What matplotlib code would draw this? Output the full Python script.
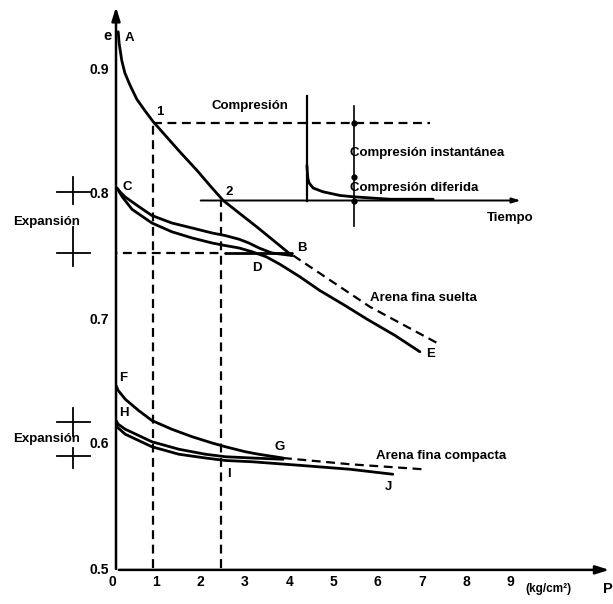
#!/usr/bin/env python3
"""Curvas de compresion e-P para arena fina suelta y compacta."""

import matplotlib
matplotlib.use('Agg')
import matplotlib.pyplot as plt
from matplotlib.transforms import ScaledTranslation

plt.rcParams['font.family'] = ['Liberation Sans Narrow', 'Liberation Sans', 'DejaVu Sans']
plt.rcParams['font.weight'] = 'bold'

# --- arena fina suelta ---
# carga virgen A-1-2-B
p_AB = [0.05, 0.07, 0.13, 0.20, 0.32, 0.47, 0.65, 0.84, 1.14, 1.44, 1.83, 2.12, 2.42, 3.21, 3.97]
e_AB = [0.929, 0.920, 0.906, 0.896, 0.886, 0.875, 0.866, 0.857, 0.845, 0.833, 0.818, 0.806, 0.794, 0.772, 0.750]

# descarga B-C
p_BC = [0.02, 0.09, 0.20, 0.52, 0.81, 1.26, 1.72, 2.17, 2.46, 2.78, 3.00, 3.23, 3.52, 3.97]
e_BC = [0.804, 0.801, 0.797, 0.789, 0.782, 0.776, 0.772, 0.768, 0.766, 0.763, 0.760, 0.756, 0.752, 0.750]

# recarga C-D-E
p_CE = [0.02, 0.14, 0.36, 0.81, 1.26, 1.72, 2.17, 2.46, 2.78, 3.07, 3.39, 3.70, 4.15, 4.60, 5.17, 5.67, 6.30, 6.86]
e_CE = [0.804, 0.797, 0.787, 0.776, 0.769, 0.764, 0.760, 0.758, 0.756, 0.753, 0.749, 0.743, 0.733, 0.722, 0.710, 0.699, 0.686, 0.673]

# prolongacion de la carga virgen
p_suelta_dash = [4.00, 5.73, 7.25]
e_suelta_dash = [0.750, 0.709, 0.680]

# --- arena fina compacta ---
p_FG = [0.0, 0.05, 0.21, 0.51, 0.81, 1.26, 1.72, 2.17, 2.47, 2.92, 3.22, 3.77]
e_FG = [0.646, 0.642, 0.635, 0.626, 0.618, 0.611, 0.605, 0.600, 0.597, 0.593, 0.591, 0.588]

p_HG = [0.0, 0.05, 0.21, 0.81, 1.42, 2.02, 2.47, 3.07, 3.77]
e_HG = [0.618, 0.615, 0.611, 0.601, 0.595, 0.591, 0.589, 0.588, 0.587]

p_HJ = [0.0, 0.05, 0.21, 0.81, 1.42, 2.02, 2.47, 3.07, 4.20, 5.28, 6.25]
e_HJ = [0.614, 0.612, 0.607, 0.597, 0.591, 0.588, 0.586, 0.585, 0.582, 0.579, 0.575]

p_compacta_dash = [3.77, 5.28, 6.93]
e_compacta_dash = [0.588, 0.583, 0.579]

# --- recuadro compresion-tiempo ---
t_inset = [4.31, 4.33, 4.36, 4.45, 4.67, 5.06, 5.35, 6.19, 7.16]
e_inset = [0.822, 0.812, 0.808, 0.804, 0.801, 0.798, 0.797, 0.795, 0.795]

x_ticks = [0, 1, 2, 3, 4, 5, 6, 7, 8, 9]
y_ticks = [0.5, 0.6, 0.7, 0.8, 0.9]

P1, E1 = 0.84, 0.856   # punto 1
P2, E2 = 2.37, 0.794   # punto 2
E_B = 0.752

fig = plt.figure(figsize=(6.13, 6.04), dpi=100)
ax = fig.add_axes([116 / 613, 36 / 604, 497 / 613, 568 / 604])
ax.set_xlim(0, 11.22)
ax.set_ylim(0.5, 0.9544)
for s in ax.spines.values():
    s.set_visible(False)

k = dict(color='black', lw=2.0, solid_capstyle='round', solid_joinstyle='round')
dash = dict(color='black', lw=1.6, ls=(0, (4, 2.5)))

# ejes con flecha
head = '-|>,head_width=0.25,head_length=0.8'
ax.annotate('', xy=(0, 0.951), xytext=(0, 0.497),
            arrowprops=dict(arrowstyle=head, lw=1.8, color='black'), annotation_clip=False)
ax.annotate('', xy=(11.2, 0.4985), xytext=(0, 0.4985),
            arrowprops=dict(arrowstyle=head, lw=1.8, color='black'), annotation_clip=False)

ax.set_xticks(x_ticks)
ax.set_yticks(y_ticks)
ax.set_yticklabels([f'{v:.1f}' for v in y_ticks])
ax.tick_params(length=0, labelsize=10, pad=5)
shift = ScaledTranslation(-0.04, 0, fig.dpi_scale_trans)
for lab in ax.get_xticklabels():
    lab.set_fontweight('bold')
    lab.set_transform(lab.get_transform() + shift)
for lab in ax.get_yticklabels():
    lab.set_fontweight('bold')

# curvas
ax.plot(p_AB, e_AB, **k)
ax.plot(p_BC, e_BC, **k)
ax.plot(p_CE, e_CE, **k)
ax.plot(p_suelta_dash, e_suelta_dash, **dash)
ax.plot([2.45, 3.97], [E_B, E_B], **k)

ax.plot(p_FG, e_FG, **k)
ax.plot(p_HG, e_HG, **k)
ax.plot(p_HJ, e_HJ, **k)
ax.plot(p_compacta_dash, e_compacta_dash, **dash)

# lineas auxiliares
ax.plot([P1, P1], [0.5, E1], **dash)
ax.plot([P2, P2], [0.5, E2], **dash)
ax.plot([P1, 7.09], [E1, E1], **dash)
ax.plot([-0.5, P2], [E_B, E_B], **dash)

# recuadro
ax.plot([4.31, 4.31], [0.794, 0.878], color='black', lw=1.6)
ax.annotate('', xy=(9.2, 0.794), xytext=(1.85, 0.794),
            arrowprops=dict(arrowstyle='-|>,head_width=0.15,head_length=0.5', lw=1.4, color='black'))
ax.plot(t_inset, e_inset, **k)
ax.plot([5.37, 5.37], [0.774, 0.870], color='black', lw=1.2)
for ev in [0.856, 0.813, 0.794]:
    ax.plot([5.37], [ev], 'o', color='black', ms=3.5)

# marcas de expansion
def cruz(e, up, down):
    ax.plot([-1.33, -0.59], [e, e], color='black', lw=1.3, clip_on=False)
    ax.plot([-0.97, -0.97], [e - down, e + up], color='black', lw=1.3, clip_on=False)

cruz(0.801, 0.012, 0.010)
cruz(0.752, 0.021, 0.010)
cruz(0.617, 0.011, 0.011)
cruz(0.590, 0.006, 0.010)

fs = 9.5
ax.text(-2.33, 0.777, 'Expansión', fontsize=fs, va='center', ha='left', clip_on=False)
ax.text(-2.33, 0.603, 'Expansión', fontsize=fs, va='center', ha='left', clip_on=False)

# textos
ax.text(2.15, 0.870, 'Compresión', fontsize=fs, va='center')
ax.text(5.28, 0.832, 'Compresión instantánea', fontsize=fs, va='center')
ax.text(5.28, 0.804, 'Compresión diferida', fontsize=fs, va='center')
ax.text(8.37, 0.780, 'Tiempo', fontsize=fs, va='center')
ax.text(5.73, 0.716, 'Arena fina suelta', fontsize=fs, va='center')
ax.text(5.87, 0.590, 'Arena fina compacta', fontsize=fs, va='center')
ax.text(-0.2, 0.926, 'e', fontsize=fs + 1, va='center', ha='center')
ax.text(11.22, 0.483, 'P', fontsize=fs + 1, va='center', ha='right', clip_on=False)
ax.text(9.25, 0.483, '(kg/cm²)', fontsize=fs - 1, va='center', ha='left')

etiquetas = [('A', 0.3, 0.924), ('1', 0.98, 0.865), ('2', 2.55, 0.801),
             ('C', 0.25, 0.805), ('D', 3.17, 0.740), ('B', 4.2, 0.756),
             ('E', 7.1, 0.671), ('F', 0.17, 0.652), ('H', 0.17, 0.624),
             ('G', 3.70, 0.597), ('I', 2.55, 0.575), ('J', 6.15, 0.565)]
for txt, x, y in etiquetas:
    ax.text(x, y, txt, fontsize=fs, va='center', ha='center')

plt.savefig('out.png', dpi=100)
plt.close()
